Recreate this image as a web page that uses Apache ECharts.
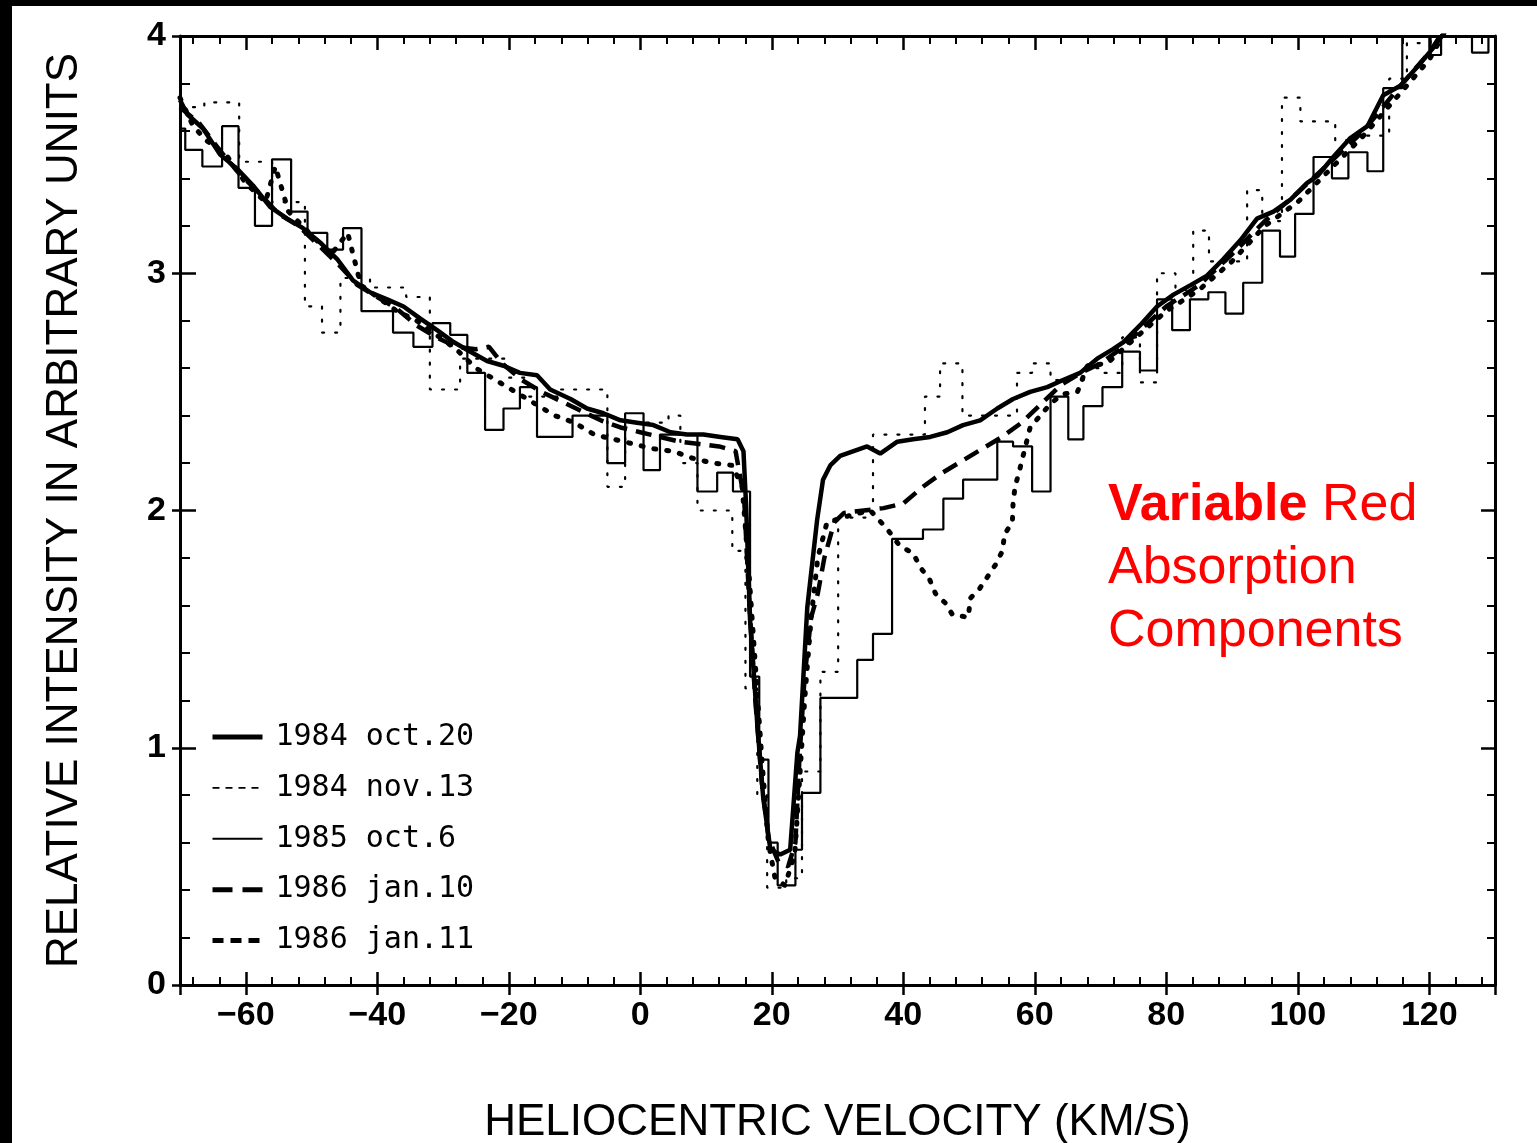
<!DOCTYPE html>
<html>
<head>
<meta charset="utf-8">
<script src="https://cdn.jsdelivr.net/npm/echarts@6/dist/echarts.min.js"></script>
<style>
html,body{margin:0;padding:0;background:#fff;}
#chart{width:1537px;height:1143px;}
</style>
</head>
<body>
<div id="chart"></div>
<script>
// ---- Data (velocity km/s, relative intensity) ----
const seriesNames = ['1984 oct.20', '1984 nov.13', '1985 oct.6', '1986 jan.10', '1986 jan.11'];

const oct20_1984 = [[-70,3.73],[-68.9,3.67],[-66.5,3.61],[-63.9,3.50],[-61.3,3.44],[-58.9,3.37],[-56.3,3.28],[-53.7,3.23],[-51.3,3.19],[-48.7,3.13],[-46.1,3.06],[-43.7,2.97],[-41.1,2.92],[-38.5,2.89],[-36.0,2.86],[-33.5,2.81],[-30.9,2.76],[-28.4,2.71],[-25.9,2.67],[-23.3,2.63],[-20.8,2.61],[-18.3,2.58],[-15.7,2.57],[-13.7,2.51],[-10.6,2.47],[-8.1,2.43],[-5.6,2.41],[-3.0,2.38],[-0.5,2.37],[2.0,2.36],[4.6,2.33],[7.1,2.32],[9.6,2.32],[12.2,2.31],[14.8,2.30],[15.7,2.25],[16.1,2.02],[16.7,1.54],[17.8,1.10],[18.7,0.79],[19.8,0.57],[21.3,0.55],[22.8,0.57],[23.9,0.98],[24.3,1.05],[25.4,1.59],[26.9,1.96],[27.8,2.13],[28.9,2.19],[30.4,2.23],[34.5,2.27],[36.5,2.24],[39.1,2.29],[41.5,2.30],[44.1,2.31],[46.7,2.33],[49.1,2.36],[51.7,2.38],[54.3,2.43],[56.7,2.47],[59.3,2.50],[61.9,2.52],[64.3,2.55],[66.9,2.58],[69.5,2.64],[71.9,2.68],[73.5,2.71],[76.0,2.78],[78.6,2.86],[81.1,2.91],[83.7,2.95],[86.2,2.99],[88.7,3.06],[91.3,3.14],[93.8,3.23],[96.3,3.26],[98.9,3.31],[101.4,3.38],[103.0,3.41],[105.4,3.49],[108.0,3.57],[110.6,3.62],[113.0,3.75],[115.6,3.79],[118.2,3.87],[120.6,3.95],[122.7,4.03],[125,4.15]];

const nov13_1984 = [[-70,3.70],[-66.3,3.72],[-61.0,3.47],[-56.0,3.30],[-51.0,2.86],[-48.4,2.75],[-45.6,2.98],[-41.1,2.94],[-35.6,2.90],[-32.0,2.51],[-27.4,2.64],[-20.2,2.56],[-17.0,2.48],[-12.3,2.51],[-5.0,2.10],[-2.3,2.37],[4.3,2.40],[6.1,2.20],[8.7,2.00],[14.0,1.83],[16.0,1.25],[17.8,0.80],[19.3,0.41],[22.2,0.45],[24.6,0.90],[27.4,1.32],[30.1,1.97],[35.4,2.32],[43.3,2.48],[45.6,2.62],[49.0,2.40],[57.3,2.58],[59.6,2.62],[62.4,2.55],[67.5,2.60],[70.3,2.58],[73.3,2.73],[76.0,2.54],[78.6,3.00],[81.4,2.93],[84.1,3.18],[86.5,3.05],[92.3,3.35],[94.6,3.22],[97.6,3.74],[100.4,3.64],[105.7,3.56],[108.7,3.58],[113.9,3.82],[116.6,3.97],[120.2,4.05],[130,4.05]];

const oct6_1985 = [[-70,3.61],[-69.2,3.52],[-66.6,3.45],[-63.6,3.62],[-61.1,3.36],[-58.6,3.20],[-56.0,3.48],[-53.1,3.26],[-50.6,3.17],[-47.6,3.10],[-45.2,3.19],[-42.4,2.84],[-37.6,2.75],[-34.5,2.69],[-31.6,2.79],[-28.9,2.74],[-26.3,2.58],[-23.6,2.34],[-20.8,2.43],[-18.3,2.52],[-15.7,2.31],[-10.3,2.40],[-5.0,2.20],[-2.3,2.41],[0.5,2.17],[3.0,2.32],[8.7,2.08],[11.7,2.16],[14.1,2.08],[16.7,1.30],[18.1,0.95],[19.5,0.60],[20.9,0.42],[23.6,0.57],[24.6,0.81],[27.4,1.21],[33.0,1.37],[35.4,1.48],[38.3,1.88],[43.0,1.92],[46.1,2.05],[49.1,2.13],[54.3,2.29],[56.7,2.27],[59.6,2.08],[62.4,2.48],[65.1,2.30],[67.4,2.44],[70.3,2.52],[73.3,2.67],[76.0,2.59],[78.6,2.89],[80.9,2.76],[83.6,2.89],[86.4,2.92],[89.0,2.83],[91.7,2.96],[94.6,3.18],[97.3,3.07],[99.6,3.25],[102.4,3.49],[105.2,3.40],[107.7,3.51],[110.6,3.43],[113.0,3.78],[115.9,4.10],[120.2,3.92],[121.8,4.10],[126.5,3.93],[129.0,4.10],[130,4.10]];

const jan10_1986 = [[-70,3.70],[-67,3.63],[-64,3.52],[-61,3.42],[-58,3.34],[-55,3.25],[-52,3.20],[-49,3.12],[-46,3.04],[-43,2.95],[-40,2.90],[-37,2.85],[-34,2.78],[-31,2.73],[-28,2.69],[-25,2.68],[-23,2.69],[-21,2.62],[-18,2.55],[-15,2.50],[-12,2.46],[-9,2.42],[-6,2.38],[-3,2.35],[0,2.33],[3,2.31],[6,2.29],[9,2.28],[12,2.27],[14.5,2.25],[15.8,2.05],[16.6,1.60],[17.5,1.20],[18.5,0.85],[19.5,0.62],[21,0.52],[22.5,0.50],[23.6,0.60],[24.2,0.95],[25,1.30],[26,1.55],[27,1.65],[28,1.80],[29.5,1.95],[31,1.99],[34,2.00],[37,2.01],[40,2.03],[43,2.10],[46,2.16],[49,2.21],[52,2.26],[55,2.31],[58,2.37],[61,2.45],[64,2.53],[67,2.58],[70,2.62],[73,2.68],[76,2.76],[80,2.86],[85,2.95],[90,3.08],[95,3.22],[100,3.34],[105,3.47],[110,3.60],[115,3.77],[120,3.93],[124,4.10]];

const jan11_1986 = [[-70,3.74],[-68,3.62],[-66,3.56],[-63,3.50],[-60,3.38],[-57,3.30],[-55.5,3.45],[-53.5,3.26],[-50,3.16],[-47,3.08],[-44.5,3.17],[-42.5,2.95],[-40,2.90],[-37,2.84],[-34,2.80],[-31,2.74],[-28,2.68],[-25,2.60],[-22,2.55],[-19,2.50],[-16,2.45],[-13,2.40],[-10,2.37],[-7,2.32],[-4,2.30],[-1,2.28],[2,2.26],[5,2.25],[8,2.22],[11,2.20],[14,2.19],[15.5,2.10],[16.5,1.75],[17.5,1.35],[18.5,0.95],[19.5,0.60],[20.5,0.45],[22,0.42],[23.5,0.55],[24.2,0.85],[25,1.20],[26,1.55],[27,1.80],[28.4,1.95],[32,1.98],[35,2.00],[37.6,1.92],[39.5,1.85],[41.5,1.82],[42.6,1.76],[44,1.71],[44.9,1.65],[46.4,1.61],[47.5,1.56],[49.9,1.55],[50.2,1.63],[51.6,1.67],[52.8,1.72],[54,1.77],[55.1,1.83],[55.4,1.90],[56.6,1.95],[56.7,2.03],[57,2.10],[57.6,2.16],[59.3,2.35],[62.4,2.45],[64.2,2.49],[66.5,2.50],[68,2.61],[71,2.62],[75,2.72],[80,2.84],[85,2.93],[90,3.05],[95,3.20],[100,3.30],[105,3.44],[110,3.58],[115,3.74],[120,3.90],[124,4.10]];

const xRange = [-70, 130];
const yRange = [0, 4];

// ---- Chart ----
const chart = echarts.init(document.getElementById('chart'), null, {renderer: 'canvas'});
const BLACK = '#000';
const tickFont = 'Liberation Sans';

function xAxisBase(extra) {
  return Object.assign({
    type: 'value', min: xRange[0], max: xRange[1],
    splitNumber: 10, minInterval: 20, maxInterval: 20,
    splitLine: {show: false}
  }, extra);
}
function yAxisBase(extra) {
  return Object.assign({
    type: 'value', min: yRange[0], max: yRange[1], interval: 1,
    splitLine: {show: false}
  }, extra);
}

const option = {
  animation: false,
  backgroundColor: '#fff',
  grid: {left: 180, right: 42, top: 36, bottom: 158, containLabel: false, outerBoundsMode: 'none'},
  xAxis: [
    xAxisBase({
      position: 'bottom',
      name: 'HELIOCENTRIC VELOCITY (KM/S)', nameLocation: 'middle', nameGap: 116,
      nameTextStyle: {fontFamily: tickFont, fontSize: 44, color: BLACK},
      axisLine: {show: true, onZero: false, lineStyle: {color: BLACK, width: 3}},
      axisTick: {show: true, inside: true, length: 13, lineStyle: {color: BLACK, width: 2.5}},
      minorTick: {show: true, splitNumber: 5, length: 8, lineStyle: {color: BLACK, width: 2}},
      axisLabel: {
        show: true, margin: 14, color: BLACK, fontFamily: tickFont, fontWeight: 'bold', fontSize: 34,
        formatter: v => (v === xRange[0] || v === xRange[1]) ? '' : String(v).replace('-', '\u2212')
      }
    }),
    xAxisBase({
      position: 'bottom',
      axisLine: {show: false, onZero: false},
      axisTick: {show: true, inside: false, length: 10, lineStyle: {color: BLACK, width: 2.5}},
      axisLabel: {show: false}
    }),
    xAxisBase({
      position: 'top',
      axisLine: {show: true, onZero: false, lineStyle: {color: BLACK, width: 3}},
      axisTick: {show: true, inside: true, length: 14, lineStyle: {color: BLACK, width: 2.5}},
      minorTick: {show: true, splitNumber: 5, length: 8, lineStyle: {color: BLACK, width: 2}},
      axisLabel: {show: false}
    })
  ],
  yAxis: [
    yAxisBase({
      position: 'left',
      name: 'RELATIVE INTENSITY IN ARBITRARY UNITS', nameLocation: 'middle', nameGap: 93, nameRotate: 90,
      nameTextStyle: {fontFamily: tickFont, fontSize: 44, color: BLACK},
      axisLine: {show: true, onZero: false, lineStyle: {color: BLACK, width: 3}},
      axisTick: {show: true, inside: true, length: 16, lineStyle: {color: BLACK, width: 2.5}},
      minorTick: {show: true, splitNumber: 5, length: 10, lineStyle: {color: BLACK, width: 2}},
      axisLabel: {show: true, margin: 14, color: BLACK, fontFamily: tickFont, fontWeight: 'bold', fontSize: 34}
    }),
    yAxisBase({
      position: 'left',
      axisLine: {show: false, onZero: false},
      axisTick: {show: true, inside: false, length: 8, lineStyle: {color: BLACK, width: 2.5}},
      axisLabel: {show: false}
    }),
    yAxisBase({
      position: 'right',
      axisLine: {show: true, onZero: false, lineStyle: {color: BLACK, width: 3}},
      axisTick: {show: true, inside: true, length: 14, lineStyle: {color: BLACK, width: 2.5}},
      minorTick: {show: true, splitNumber: 5, length: 8, lineStyle: {color: BLACK, width: 2}},
      axisLabel: {show: false}
    })
  ],
  legend: {
    show: true, orient: 'vertical', left: 210, top: 722, padding: 0,
    data: [
      {name: seriesNames[0], lineStyle: {width: 5, type: 'solid'}},
      {name: seriesNames[1], lineStyle: {width: 1.6, type: [7, 6], cap: 'butt'}},
      {name: seriesNames[2], lineStyle: {width: 2, type: 'solid'}},
      {name: seriesNames[3], lineStyle: {width: 5, type: [20, 10], cap: 'butt'}},
      {name: seriesNames[4], lineStyle: {width: 5, type: [11, 7], cap: 'butt'}}
    ],
    itemWidth: 50, itemHeight: 14, itemGap: 20.9,
    selectedMode: false,
    itemStyle: {opacity: 0},
    lineStyle: {width: 'inherit'},
    textStyle: {fontFamily: 'DejaVu Sans Mono', fontSize: 30, lineHeight: 30, color: BLACK, padding: [0, 0, 0, 8]}
  },
  graphic: [
    {type: 'rect', shape: {x: 0, y: 0, width: 1537, height: 6}, style: {fill: BLACK}, silent: true},
    {type: 'rect', shape: {x: 0, y: 0, width: 12, height: 1143}, style: {fill: BLACK}, silent: true},
    {
      type: 'text', left: 1108, top: 480, silent: true,
      style: {
        text: '{b|Variable}{n| Red}\n{n|Absorption}\n{n|Components}',
        fill: '#ff0000',
        rich: {
          b: {fontFamily: 'Liberation Sans', fontWeight: 'bold', fontSize: 52, lineHeight: 63, fill: '#ff0000'},
          n: {fontFamily: 'Liberation Sans', fontSize: 52, lineHeight: 63, fill: '#ff0000'}
        }
      }
    }
  ],
  series: [
    {
      name: seriesNames[2], type: 'line', data: oct6_1985, step: 'end', symbol: 'none',
      lineStyle: {color: BLACK, width: 2.2}, itemStyle: {color: BLACK}, z: 2, emphasis: {disabled: true}
    },
    {
      name: seriesNames[1], type: 'line', data: nov13_1984, step: 'end', symbol: 'none',
      lineStyle: {color: BLACK, width: 2.2, type: [2, 11], cap: 'round'}, itemStyle: {color: BLACK}, z: 3, emphasis: {disabled: true}
    },
    {
      name: seriesNames[3], type: 'line', data: jan10_1986, symbol: 'none',
      lineStyle: {color: BLACK, width: 4.5, type: [16, 9]}, itemStyle: {color: BLACK}, z: 4, emphasis: {disabled: true}
    },
    {
      name: seriesNames[4], type: 'line', data: jan11_1986, symbol: 'none',
      lineStyle: {color: BLACK, width: 5, type: [2, 11], cap: 'round'}, itemStyle: {color: BLACK}, z: 4, emphasis: {disabled: true}
    },
    {
      name: seriesNames[0], type: 'line', data: oct20_1984, symbol: 'none',
      lineStyle: {color: BLACK, width: 4.5}, itemStyle: {color: BLACK}, z: 5, emphasis: {disabled: true}
    }
  ]
};
chart.setOption(option);
</script>
</body>
</html>
